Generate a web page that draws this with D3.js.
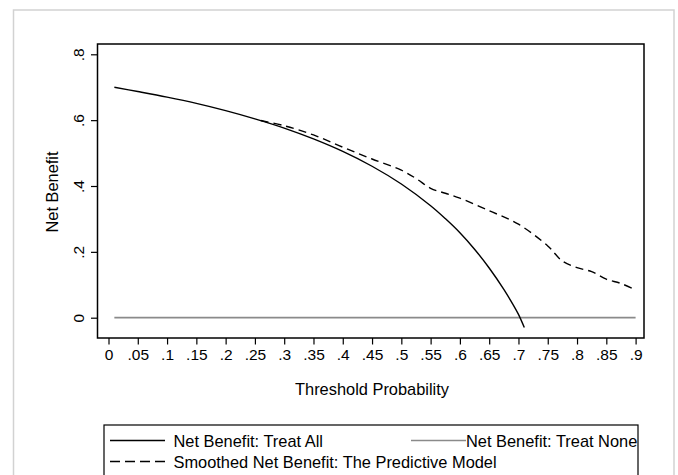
<!DOCTYPE html>
<html>
<head>
<meta charset="utf-8">
<script src="https://cdn.jsdelivr.net/npm/d3@7"></script>
<style>
  body { margin: 0; background: #fff; }
  svg text { font-family: "Liberation Sans", Arial, sans-serif; fill: #000; }
</style>
</head>
<body>
<div id="chart"></div>
<script>
// threshold probabilities and net benefit values
var treatAllX = [0.01, 0.05, 0.10, 0.15, 0.20, 0.25, 0.30, 0.35, 0.40, 0.45, 0.50, 0.55, 0.575, 0.60, 0.625, 0.65, 0.675, 0.69, 0.70, 0.71];
var treatAllY = [0.700, 0.687, 0.670, 0.651, 0.629, 0.604, 0.576, 0.543, 0.505, 0.460, 0.406, 0.340, 0.301, 0.258, 0.208, 0.151, 0.086, 0.042, 0.010, -0.030];

var modelX = [0.26, 0.30, 0.35, 0.40, 0.45, 0.50, 0.525, 0.55, 0.575, 0.60, 0.65, 0.70, 0.75, 0.775, 0.80, 0.825, 0.85, 0.875, 0.90];
var modelY = [0.599, 0.583, 0.555, 0.518, 0.482, 0.448, 0.423, 0.393, 0.378, 0.363, 0.325, 0.284, 0.218, 0.172, 0.152, 0.140, 0.117, 0.104, 0.084];

var treatNoneX = [0.01, 0.90];
var treatNoneY = [0, 0];

var xTicks = [0, 0.05, 0.1, 0.15, 0.2, 0.25, 0.3, 0.35, 0.4, 0.45, 0.5, 0.55, 0.6, 0.65, 0.7, 0.75, 0.8, 0.85, 0.9];
var yTicks = [0, 0.2, 0.4, 0.6, 0.8];

var legendLabels = ["Net Benefit: Treat All", "Net Benefit: Treat None", "Smoothed Net Benefit: The Predictive Model"];

var W = 678, H = 475;
var box = {left: 97.5, right: 644, top: 44, bottom: 338};

var svg = d3.select("#chart").append("svg")
    .attr("width", W)
    .attr("height", H);

// outer frame
svg.append("rect")
    .attr("x", 13.5).attr("y", 10)
    .attr("width", 660.5).attr("height", 480)
    .attr("fill", "none")
    .attr("stroke", "#d2d2d2")
    .attr("stroke-width", 1.5);

var x = d3.scaleLinear().domain([0, 0.9]).range([108.5, 635.6]);
var y = d3.scaleLinear().domain([0, 0.8]).range([317.7, 54.3]);

var fmt = function(d) { return d === 0 ? "0" : String(d).replace(/^0/, ""); };

// x axis
var gx = svg.append("g")
    .attr("transform", "translate(0," + box.bottom + ")")
    .call(d3.axisBottom(x).tickValues(xTicks).tickFormat(fmt).tickSize(6.5).tickSizeOuter(0));
gx.select(".domain").remove();
gx.selectAll(".tick line").attr("stroke", "#000").attr("stroke-width", 1.2);
gx.selectAll(".tick text")
    .attr("y", 22).attr("dy", 0)
    .style("font-size", "15.5px");

// y axis, labels turned like the reference
var gy = svg.append("g")
    .attr("transform", "translate(" + box.left + ",0)")
    .call(d3.axisLeft(y).tickValues(yTicks).tickFormat(fmt).tickSize(6.5).tickSizeOuter(0));
gy.select(".domain").remove();
gy.selectAll(".tick line").attr("stroke", "#000").attr("stroke-width", 1.2);
gy.selectAll(".tick text").remove();
gy.selectAll(".tick").append("text")
    .attr("text-anchor", "middle")
    .attr("transform", "translate(-14,0) rotate(-90)")
    .style("font-size", "15.5px")
    .text(fmt);

// plot box
svg.append("rect")
    .attr("x", box.left).attr("y", box.top)
    .attr("width", box.right - box.left).attr("height", box.bottom - box.top)
    .attr("fill", "none")
    .attr("stroke", "#000")
    .attr("stroke-width", 1.5);

// axis titles
svg.append("text")
    .attr("x", 372).attr("y", 395)
    .attr("text-anchor", "middle")
    .style("font-size", "16.4px")
    .text("Threshold Probability");

svg.append("text")
    .attr("transform", "translate(58,192) rotate(-90)")
    .attr("text-anchor", "middle")
    .style("font-size", "16.4px")
    .text("Net Benefit");

var line = d3.line()
    .x(function(d) { return x(d[0]); })
    .y(function(d) { return y(d[1]); })
    .curve(d3.curveCatmullRom);

svg.append("path")
    .datum(d3.zip(treatNoneX, treatNoneY))
    .attr("d", line)
    .attr("fill", "none")
    .attr("stroke", "#8a8a8a")
    .attr("stroke-width", 1.8);

svg.append("path")
    .datum(d3.zip(treatAllX, treatAllY))
    .attr("d", line)
    .attr("fill", "none")
    .attr("stroke", "#000")
    .attr("stroke-width", 1.4);

svg.append("path")
    .datum(d3.zip(modelX, modelY))
    .attr("d", line)
    .attr("fill", "none")
    .attr("stroke", "#000")
    .attr("stroke-width", 1.4)
    .attr("stroke-dasharray", "8,5");

// legend
var lg = svg.append("g");
lg.append("rect")
    .attr("x", 104).attr("y", 425)
    .attr("width", 534).attr("height", 60)
    .attr("fill", "#fff")
    .attr("stroke", "#000")
    .attr("stroke-width", 1.2);

var items = [
  {x1: 110, x2: 165, y: 440.5, stroke: "#000", w: 1.4, dash: null, tx: 173.5, ty: 446.5, label: legendLabels[0]},
  {x1: 411, x2: 466, y: 440.5, stroke: "#8a8a8a", w: 1.4, dash: null, tx: 466, ty: 446.5, label: legendLabels[1]},
  {x1: 110, x2: 165, y: 461.5, stroke: "#000", w: 1.4, dash: "10,5", tx: 173.5, ty: 468, label: legendLabels[2]}
];
items.forEach(function(it) {
  lg.append("line")
      .attr("x1", it.x1).attr("x2", it.x2)
      .attr("y1", it.y).attr("y2", it.y)
      .attr("stroke", it.stroke)
      .attr("stroke-width", it.w)
      .attr("stroke-dasharray", it.dash);
  lg.append("text")
      .attr("x", it.tx).attr("y", it.ty)
      .style("font-size", "16.4px")
      .text(it.label);
});
</script>
</body>
</html>
